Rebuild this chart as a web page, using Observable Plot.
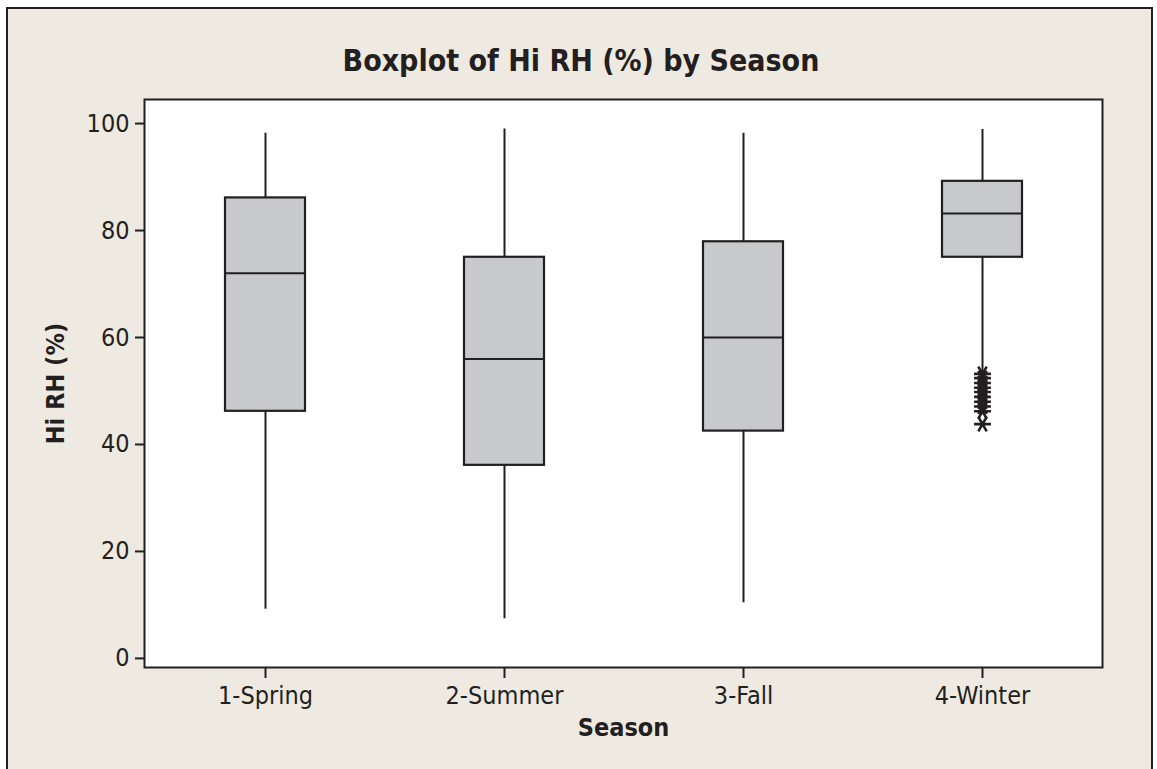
<!DOCTYPE html>
<html>
<head>
<meta charset="utf-8">
<script src="https://cdn.jsdelivr.net/npm/d3@7"></script>
<script src="https://cdn.jsdelivr.net/npm/@observablehq/plot@0.6"></script>
<style>
  html, body { margin: 0; padding: 0; background: #ffffff; }
  #page { position: relative; width: 1157px; height: 769px; overflow: hidden; background: #ffffff; }
  #panel { position: absolute; left: 6px; top: 7px; width: 1147px; height: 800px;
           background: #eeeae1; border: 2px solid #231f20; box-sizing: border-box; }
  #title { position: absolute; left: 6px; width: 1150px; top: 46px; text-align: center;
           font-family: "DejaVu Sans Condensed", "DejaVu Sans", sans-serif; font-stretch: condensed;
           font-weight: bold; font-size: 30px; color: #231f20; line-height: 1; }
  #chart { position: absolute; left: 0; top: 0; }
  #chart svg { background: transparent; }
</style>
</head>
<body>
<div id="page">
  <div id="panel"></div>
  <div id="chart"></div>
  <div id="title">Boxplot of Hi RH (%) by Season</div>
</div>
<script>
const seasons = ["1-Spring", "2-Summer", "3-Fall", "4-Winter"];
const whiskerLow = [9.2, 7.4, 10.4, 53.5];
const q1 = [46.2, 36.1, 42.5, 75.0];
const median = [72.0, 56.0, 60.0, 83.2];
const q3 = [86.1, 75.0, 77.9, 89.2];
const whiskerHigh = [98.2, 99.0, 98.2, 98.9];
const winterOutliers = [53.2, 52.4, 51.5, 50.6, 49.8, 48.9, 48.0, 47.1, 46.2, 43.8];
const yTicks = [0, 20, 40, 60, 80, 100];

const boxes = seasons.map((s, i) => ({
  season: s, low: whiskerLow[i], q1: q1[i], median: median[i], q3: q3[i], high: whiskerHigh[i]
}));
const outliers = winterOutliers.map(v => ({season: "4-Winter", value: v}));

const font = '"DejaVu Sans Condensed", "DejaVu Sans", sans-serif';
const ink = "#231f20";

const chart = Plot.plot({
  width: 1157,
  height: 769,
  marginLeft: 144,
  marginRight: 55,
  marginTop: 99,
  marginBottom: 102,
  style: { fontFamily: font, fontStretch: "condensed", fontSize: "25px", color: ink, background: "transparent" },
  x: { domain: seasons, paddingInner: 0.666, paddingOuter: 0.333 },
  y: { domain: [-1.7, 104.5] },
  marks: [
    Plot.frame({ fill: "white", stroke: null }),
    Plot.ruleX(boxes, { x: "season", y1: "low", y2: "high", stroke: ink, strokeWidth: 2 }),
    Plot.barY(boxes, { x: "season", y1: "q1", y2: "q3", fill: "#c8c9cb", stroke: ink, strokeWidth: 2.2 }),
    Plot.tickY(boxes, { x: "season", y: "median", stroke: ink, strokeWidth: 2 }),
    Plot.dot(outliers, { x: "season", y: "value", symbol: "asterisk", r: 8, rotate: 90, stroke: ink, strokeWidth: 2.6 }),
    Plot.axisY({ ticks: yTicks, tickSize: 9, tickPadding: 6, tickFormat: d => String(d),
      label: "Hi RH (%)", labelAnchor: "center", labelArrow: "none", labelOffset: 98,
      stroke: ink, fill: ink, strokeWidth: 2, fontSize: 25 }),
    Plot.axisX({ tickSize: 11, tickPadding: 8,
      label: "Season", labelAnchor: "center", labelArrow: "none", labelOffset: 68,
      stroke: ink, fill: ink, strokeWidth: 2, fontSize: 25 }),
    Plot.frame({ stroke: ink, strokeWidth: 2 })
  ]
});

d3.select(chart).selectAll("g[aria-label='y-axis label'] text, g[aria-label='x-axis label'] text")
  .style("font-weight", "bold");
document.getElementById("chart").appendChild(chart);
</script>
</body>
</html>
